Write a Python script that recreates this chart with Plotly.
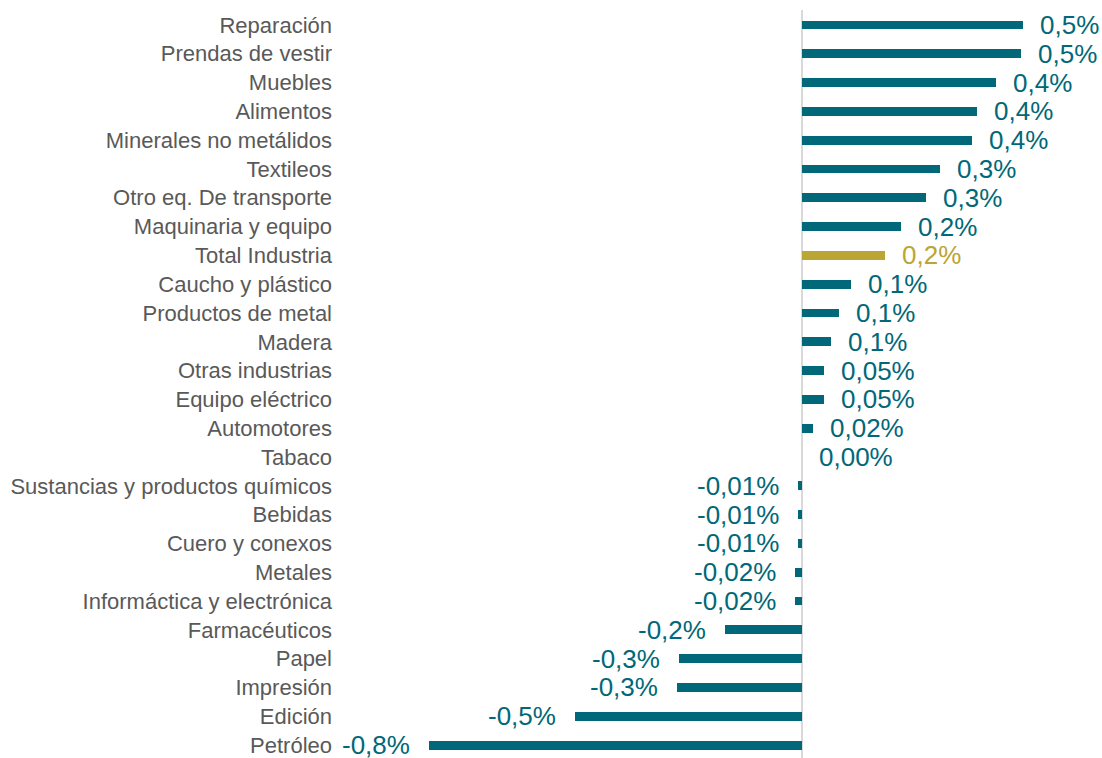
import plotly.graph_objects as go

categories = [
    "Reparación", "Prendas de vestir", "Muebles", "Alimentos", "Minerales no metálidos",
    "Textileos", "Otro eq. De transporte", "Maquinaria y equipo", "Total Industria",
    "Caucho y plástico", "Productos de metal", "Madera", "Otras industrias",
    "Equipo eléctrico", "Automotores", "Tabaco", "Sustancias y productos químicos",
    "Bebidas", "Cuero y conexos", "Metales", "Informáctica y electrónica",
    "Farmacéuticos", "Papel", "Impresión", "Edición", "Petróleo",
]
values = [
    0.474, 0.470, 0.416, 0.375, 0.365, 0.297, 0.267, 0.212, 0.178, 0.105,
    0.079, 0.062, 0.048, 0.048, 0.023, 0.0, -0.008, -0.009, -0.009, -0.015,
    -0.015, -0.165, -0.264, -0.269, -0.488, -0.80,
]
value_labels = [
    "0,5%", "0,5%", "0,4%", "0,4%", "0,4%", "0,3%", "0,3%", "0,2%", "0,2%", "0,1%",
    "0,1%", "0,1%", "0,05%", "0,05%", "0,02%", "0,00%", "-0,01%", "-0,01%", "-0,01%", "-0,02%",
    "-0,02%", "-0,2%", "-0,3%", "-0,3%", "-0,5%", "-0,8%",
]

TEAL = "#006878"
GOLD = "#BBA533"
colors = [GOLD if c == "Total Industria" else TEAL for c in categories]

fig = go.Figure()
fig.add_trace(go.Bar(
    x=values, y=categories, orientation="h",
    marker=dict(color=colors, line=dict(width=0)),
    width=0.31, hoverinfo="skip",
))

for cat, val, lab, col in zip(categories, values, value_labels, colors):
    neg = val < 0
    fig.add_annotation(
        x=val, y=cat, text=lab, showarrow=False,
        xanchor="right" if neg else "left",
        xshift=-17 if neg else 15,
        font=dict(family="Liberation Sans, Arial", size=26, color=col),
    )

fig.update_layout(
    width=1102, height=758,
    margin=dict(l=338, r=0, t=10, b=0),
    plot_bgcolor="white", paper_bgcolor="white",
    showlegend=False,
    bargap=0,
    xaxis=dict(range=[-0.9957, 0.6438], showgrid=False, showticklabels=False,
               zeroline=True, zerolinecolor="#d9d9d9", zerolinewidth=2, fixedrange=True),
    yaxis=dict(range=[25.45, -0.52], showgrid=False, ticks="", ticklabelstandoff=5,
               tickfont=dict(family="Liberation Sans, Arial", size=22, color="#595959"),
               fixedrange=True, automargin=False),
)

fig.write_html("out.html", config={"displayModeBar": False},
               post_script="document.body.style.margin='0';document.body.style.overflow='hidden';")
